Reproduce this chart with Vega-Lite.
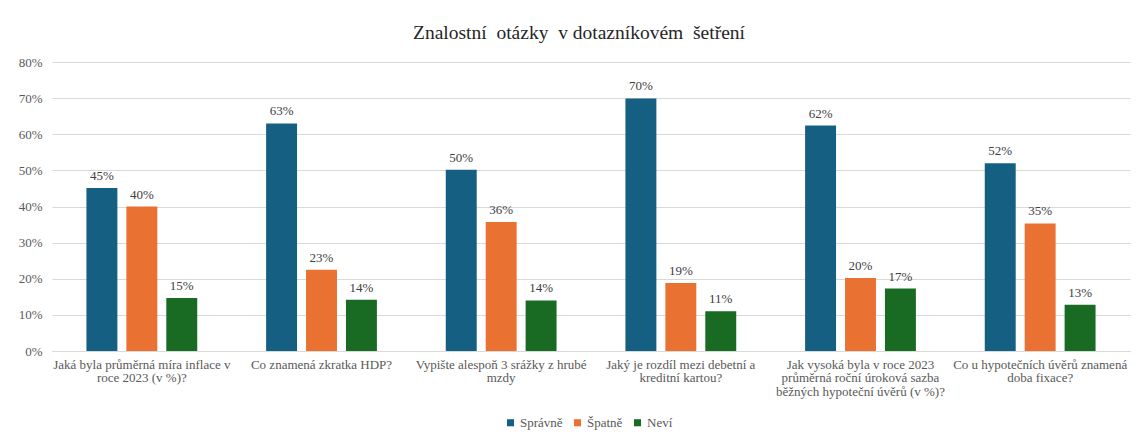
{
  "$schema": "https://vega.github.io/schema/vega-lite/v6.json",
  "width": 1078,
  "height": 289,
  "autosize": {"type": "none"},
  "padding": {"left": 52, "top": 62, "right": 12, "bottom": 85},
  "background": "white",
  "title": {
    "text": "Znalostní\u00a0 otázky\u00a0 v dotazníkovém\u00a0 šetření",
    "font": "Liberation Serif",
    "fontSize": 19.5,
    "fontWeight": "normal",
    "color": "#262626",
    "anchor": "middle",
    "dx": -12,
    "offset": 13
  },
  "data": {
    "values": [
      {"otazka": "Jaká byla průměrná míra inflace v|roce 2023 (v %)?", "odpoved": "Správně", "podil": 0.451},
      {"otazka": "Jaká byla průměrná míra inflace v|roce 2023 (v %)?", "odpoved": "Špatně", "podil": 0.400},
      {"otazka": "Jaká byla průměrná míra inflace v|roce 2023 (v %)?", "odpoved": "Neví", "podil": 0.147},
      {"otazka": "Co znamená zkratka HDP?", "odpoved": "Správně", "podil": 0.630},
      {"otazka": "Co znamená zkratka HDP?", "odpoved": "Špatně", "podil": 0.225},
      {"otazka": "Co znamená zkratka HDP?", "odpoved": "Neví", "podil": 0.142},
      {"otazka": "Vypište alespoň 3 srážky z hrubé|mzdy", "odpoved": "Správně", "podil": 0.502},
      {"otazka": "Vypište alespoň 3 srážky z hrubé|mzdy", "odpoved": "Špatně", "podil": 0.357},
      {"otazka": "Vypište alespoň 3 srážky z hrubé|mzdy", "odpoved": "Neví", "podil": 0.140},
      {"otazka": "Jaký je rozdíl mezi debetní a|kreditní kartou?", "odpoved": "Správně", "podil": 0.699},
      {"otazka": "Jaký je rozdíl mezi debetní a|kreditní kartou?", "odpoved": "Špatně", "podil": 0.188},
      {"otazka": "Jaký je rozdíl mezi debetní a|kreditní kartou?", "odpoved": "Neví", "podil": 0.110},
      {"otazka": "Jak vysoká byla v roce 2023|průměrná roční úroková sazba|běžných hypoteční úvěrů (v %)?", "odpoved": "Správně", "podil": 0.624},
      {"otazka": "Jak vysoká byla v roce 2023|průměrná roční úroková sazba|běžných hypoteční úvěrů (v %)?", "odpoved": "Špatně", "podil": 0.202},
      {"otazka": "Jak vysoká byla v roce 2023|průměrná roční úroková sazba|běžných hypoteční úvěrů (v %)?", "odpoved": "Neví", "podil": 0.173},
      {"otazka": "Co u hypotečních úvěrů znamená|doba fixace?", "odpoved": "Správně", "podil": 0.520},
      {"otazka": "Co u hypotečních úvěrů znamená|doba fixace?", "odpoved": "Špatně", "podil": 0.353},
      {"otazka": "Co u hypotečních úvěrů znamená|doba fixace?", "odpoved": "Neví", "podil": 0.128}
    ]
  },
  "encoding": {
    "x": {
      "field": "otazka",
      "type": "nominal",
      "sort": null,
      "scale": {"paddingInner": 0.3333, "paddingOuter": 0.1667},
      "axis": {
        "title": null,
        "labelAngle": 0,
        "labelExpr": "split(datum.label, '|')",
        "labelFont": "Liberation Serif",
        "labelFontSize": 13,
        "labelColor": "#595959",
        "labelLineHeight": 13.5,
        "labelPadding": 7,
        "labelLimit": 0,
        "ticks": false,
        "domainColor": "#d9d9d9",
        "labelBaseline": "top"
      }
    },
    "xOffset": {
      "field": "odpoved",
      "type": "nominal",
      "sort": ["Správně", "Špatně", "Neví"],
      "scale": {"paddingInner": 0.225, "paddingOuter": 0.1125}
    },
    "y": {
      "field": "podil",
      "type": "quantitative",
      "scale": {"domain": [0, 0.8], "nice": false},
      "axis": {
        "title": null,
        "format": ".0%",
        "values": [0, 0.1, 0.2, 0.3, 0.4, 0.5, 0.6, 0.7, 0.8],
        "labelFont": "Liberation Serif",
        "labelFontSize": 13,
        "labelColor": "#595959",
        "labelPadding": 10,
        "ticks": false,
        "domain": false,
        "gridColor": "#d9d9d9"
      }
    }
  },
  "layer": [
    {
      "mark": {"type": "bar"},
      "encoding": {
        "color": {
          "field": "odpoved",
          "type": "nominal",
          "sort": ["Správně", "Špatně", "Neví"],
          "scale": {"domain": ["Správně", "Špatně", "Neví"], "range": ["#156082", "#E97132", "#196B24"]},
          "legend": {
            "title": null,
            "orient": "none",
            "direction": "horizontal",
            "legendX": 452,
            "legendY": 354,
            "symbolType": "square",
            "symbolSize": 50,
            "symbolStrokeWidth": 0,
            "labelFont": "Liberation Serif",
            "labelFontSize": 13,
            "labelColor": "#595959",
            "labelOffset": 3,
            "columnPadding": 8
          }
        }
      }
    },
    {
      "mark": {"type": "text", "baseline": "bottom", "dy": -5, "font": "Liberation Serif", "fontSize": 13, "color": "#404040"},
      "encoding": {
        "text": {"field": "podil", "type": "quantitative", "format": ".0%"}
      }
    }
  ],
  "config": {
    "view": {"stroke": null}
  }
}
